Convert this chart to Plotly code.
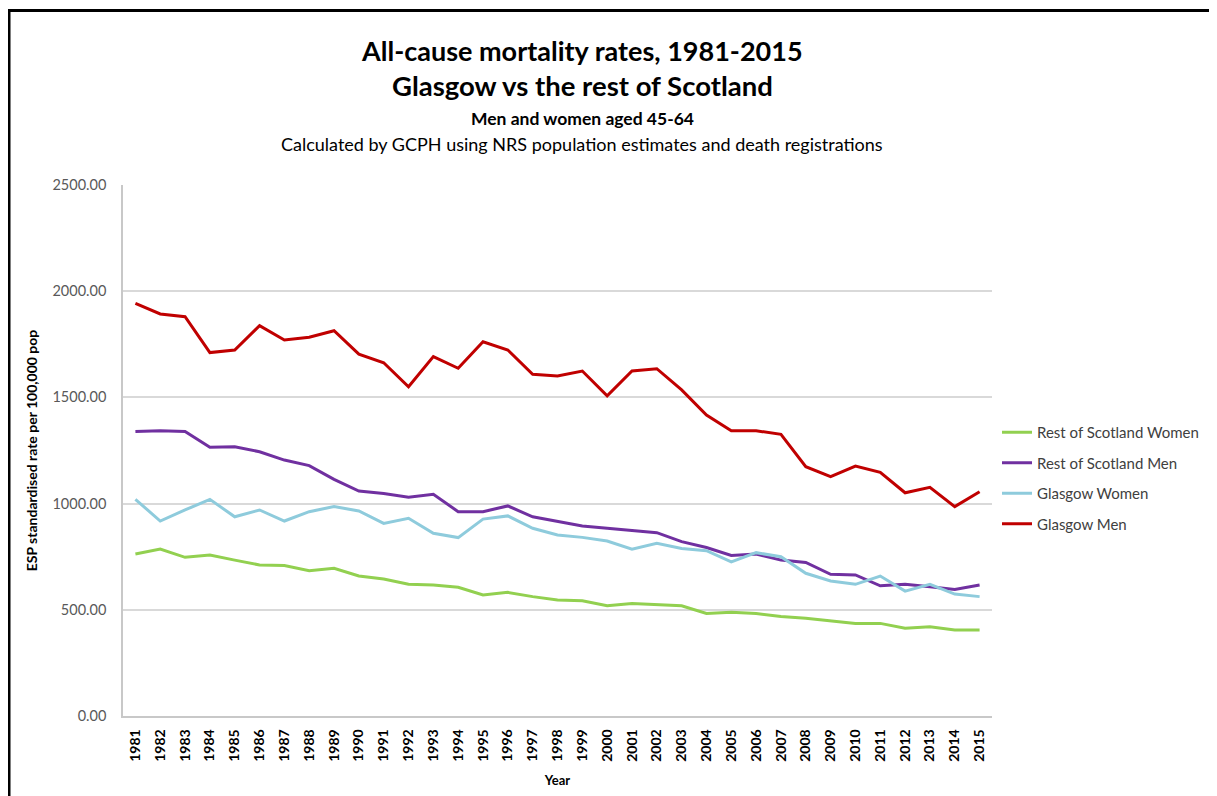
import plotly.graph_objects as go

years = [str(y) for y in range(1981, 2016)]

rest_women = [763, 786, 747, 758, 734, 711, 708, 684, 695, 659, 645, 620, 617, 606, 570, 582, 562, 546, 543,
              519, 530, 523, 519, 483, 488, 483, 468, 460, 447, 436, 436, 413, 420, 405, 405]
rest_men = [1339, 1343, 1339, 1265, 1268, 1244, 1205, 1179, 1114, 1059, 1048, 1030, 1044, 962, 962, 989, 938, 915, 895,
            884, 872, 863, 821, 793, 756, 763, 734, 723, 667, 664, 613, 620, 609, 596, 617]
glasgow_women = [1020, 918, 970, 1020, 938, 970, 918, 962, 986, 965, 907, 931, 860, 840, 927, 942, 884, 852, 841,
                 824, 785, 813, 789, 778, 726, 769, 750, 672, 636, 620, 659, 588, 620, 574, 562]
glasgow_men = [1943, 1893, 1880, 1711, 1723, 1838, 1770, 1783, 1814, 1704, 1663, 1550, 1692, 1637, 1762, 1723, 1609, 1601, 1624,
               1507, 1624, 1635, 1535, 1417, 1343, 1343, 1326, 1174, 1127, 1177, 1147, 1051, 1077, 986, 1056]

series_names = ["Rest of Scotland Women", "Rest of Scotland Men", "Glasgow Women", "Glasgow Men"]
series_values = [rest_women, rest_men, glasgow_women, glasgow_men]
series_colors = ["#92d050", "#7030a0", "#8ecbdc", "#c00000"]

y_ticks = [0, 500, 1000, 1500, 2000, 2500]

FONT = "Lato"

fig = go.Figure()
for i, (name, vals, col) in enumerate(zip(series_names, series_values, series_colors)):
    fig.add_trace(go.Scatter(x=years, y=vals, mode="lines", name=name,
                             line=dict(color=col, width=3),
                             legendgroup=f"g{i}"))

# page is offset by 8px (body margin); work in figure coordinates
OFF = 8
W, H = 1217 - OFF, 796 - OFF
L, T = 123 - OFF, 185 - OFF
R = W - (992 - OFF)
B = H - (716 - OFF)
pw, ph = W - L - R, H - T - B

def px_x(px):  # px given in page coordinates
    return (px - OFF - L) / pw

def px_y(py):
    return (H - B - (py - OFF)) / ph

fig.update_layout(
    width=W, height=H,
    margin=dict(l=L, r=R, t=T, b=B, autoexpand=False),
    paper_bgcolor="white", plot_bgcolor="white",
    font=dict(family=FONT, color="#404040"),
    showlegend=True,
    legend=dict(x=px_x(997), y=px_y(416), xanchor="left", yanchor="top",
                font=dict(size=15, color="#404040", family=FONT),
                tracegroupgap=8, traceorder="grouped",
                itemwidth=30, bgcolor="rgba(0,0,0,0)"),
    xaxis=dict(type="category", range=[-0.5, 34.5], tickangle=-90,
               tickfont=dict(size=14, color="#000000", family=FONT, weight="bold"),
               showgrid=False, showline=True, linecolor="#c8c8c8", linewidth=1.5,
               ticks="", ticklabelstandoff=6,
               title=dict(text="<b>Year</b>", font=dict(size=13, color="#000000", family=FONT), standoff=15)),
    yaxis=dict(range=[0, 2500], tickvals=y_ticks, tickformat=".2f",
               tickfont=dict(size=14.5, color="#595959", family=FONT),
               showgrid=True, gridcolor="#d9d9d9", gridwidth=1.5,
               showline=True, linecolor="#c8c8c8", linewidth=1.5,
               zeroline=False, ticks="", ticklabelstandoff=12,
               title=dict(text="<b>ESP standardised rate per 100,000 pop</b>",
                          font=dict(size=14, color="#000000", family=FONT), standoff=12)),
)

cx = px_x(582)
titles = [
    ("<b>All-cause mortality rates, 1981-2015</b>", 50, 27, "#000000"),
    ("<b>Glasgow vs the rest of Scotland</b>", 85, 27.5, "#000000"),
    ("<b>Men and women aged 45-64</b>", 118, 17.5, "#000000"),
    ("Calculated by GCPH using NRS population estimates and death registrations", 144, 18, "#000000"),
]
for text, py, size, col in titles:
    fig.add_annotation(text=text, xref="paper", yref="paper", x=cx, y=px_y(py),
                       xanchor="center", yanchor="middle", showarrow=False,
                       font=dict(size=size, color=col, family=FONT))

# outer frame (top and left black borders)
fig.add_shape(type="line", xref="paper", yref="paper",
              x0=px_x(OFF), x1=px_x(1217), y0=px_y(10.5), y1=px_y(10.5),
              line=dict(color="#000000", width=3))
fig.add_shape(type="line", xref="paper", yref="paper",
              x0=px_x(9), x1=px_x(9), y0=px_y(9), y1=px_y(796),
              line=dict(color="#000000", width=3))

fig.write_html("out.html")
